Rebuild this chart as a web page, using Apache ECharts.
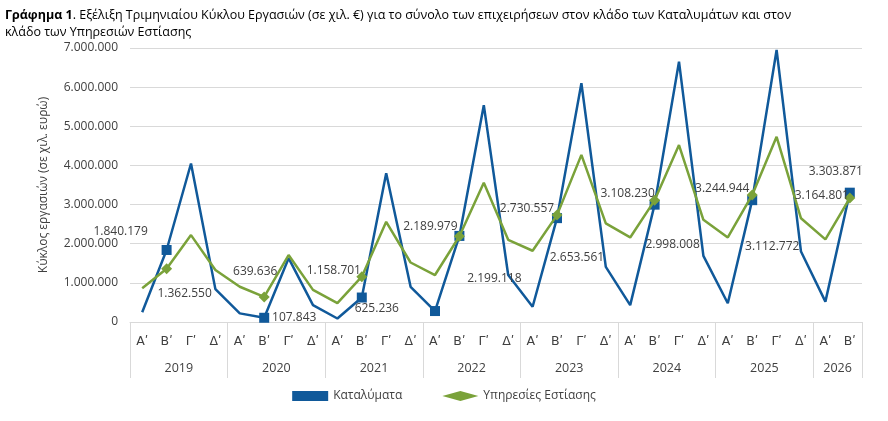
<!DOCTYPE html>
<html lang="el">
<head>
    <meta charset="UTF-8">
    <title>Γράφημα 1</title>
    <script src="https://cdn.jsdelivr.net/npm/echarts@6/dist/echarts.min.js"></script>
    <style>
        html, body { margin: 0; padding: 0; background: #fff; }
        #main { width: 888px; height: 421px; }
    </style>
</head>
<body>
    <div id="main"></div>
    <script>
    var myChart = echarts.init(document.getElementById('main'));

    var years = ['2019', '2020', '2021', '2022', '2023', '2024', '2025', '2026'];
    var quarters = ['Α\u02B9', 'Β\u02B9', 'Γ\u02B9', 'Δ\u02B9'];
    var cats = [];
    years.forEach(function (y) {
        quarters.forEach(function (q) {
            cats.push(q);
        });
    });
    cats = cats.slice(0, 30);

    // Καταλύματα (χιλ. €)
    var katalymata = [
        250000, 1840179, 4050000, 840000,
        220000, 107843, 1630000, 430000,
        90000, 625236, 3800000, 900000,
        280000, 2199118, 5540000, 1200000,
        390000, 2653561, 6100000, 1410000,
        430000, 2998008, 6650000, 1690000,
        480000, 3112772, 6950000, 1800000,
        520000, 3303871
    ];
    // Υπηρεσίες Εστίασης (χιλ. €)
    var estiasi = [
        860000, 1362550, 2220000, 1330000,
        900000, 639636, 1710000, 820000,
        480000, 1158701, 2560000, 1520000,
        1200000, 2189979, 3560000, 2100000,
        1820000, 2730557, 4270000, 2520000,
        2160000, 3108230, 4520000, 2610000,
        2160000, 3244944, 4730000, 2650000,
        2110000, 3164801
    ];

    // θέσεις ετικετών στα σημεία Β΄ τριμήνου
    var blueOff = [[-46, -18], [30, 0], [15, 11], [35, 43], [20, 39], [18, 40], [20, 46], [-14, -21]];
    var greenOff = [[18, 25], [-9, -25], [-28, -6], [-29, -10], [-30, -7], [-27, -7], [-30, -6], [-28, -3]];

    function fmt(v) {
        return String(v).replace(/\B(?=(\d{3})+(?!\d))/g, '.');
    }

    function build(values, sym, size, offs, extra) {
        return values.map(function (v, i) {
            if (i % 4 === 1) {
                return {
                    value: v, symbol: sym, symbolSize: size,
                    label: {
                        show: true, position: 'inside', offset: offs[(i - 1) / 4],
                        formatter: fmt(v), color: '#404040', fontSize: 12,
                        fontFamily: 'Open Sans'
                    }
                };
            }
            if (extra && extra.indexOf(i) >= 0) {
                return { value: v, symbol: sym, symbolSize: size };
            }
            return { value: v, symbol: 'none' };
        });
    }

    var option = {
        animation: false,
        textStyle: { fontFamily: 'Open Sans', color: '#404040' },
        title: {
            left: 0, top: 2,
            text: '{b|Γράφημα 1}. Εξέλιξη Τριμηνιαίου Κύκλου Εργασιών (σε χιλ. €) για το σύνολο των επιχειρήσεων στον κλάδο των Καταλυμάτων και στον\nκλάδο των Υπηρεσιών Εστίασης',
            textStyle: {
                fontSize: 12.5, fontWeight: 'normal', color: '#000', lineHeight: 17,
                fontFamily: 'Open Sans',
                rich: { b: { fontWeight: 'bold', fontSize: 12.5, color: '#000', fontFamily: 'Open Sans' } }
            }
        },
        legend: {
            bottom: 14, left: 'center', itemGap: 40, itemWidth: 36, itemHeight: 10,
            textStyle: { fontSize: 12, color: '#404040' },
            data: [
                { name: 'Καταλύματα', icon: 'rect' },
                { name: 'Υπηρεσίες Εστίασης', icon: 'diamond' }
            ]
        },
        grid: { left: 130, right: 26, top: 48, bottom: 99 },
        xAxis: [{
            type: 'category', data: cats, boundaryGap: true,
            axisLine: { lineStyle: { color: '#d9d9d9' } },
            axisTick: { show: false },
            axisLabel: { fontSize: 12.5, color: '#404040', margin: 13, interval: 0, fontFamily: 'DejaVu Sans' }
        }, {
            type: 'value', min: 0, max: 30, position: 'bottom',
            axisLine: { show: false },
            splitLine: { show: false },
            axisTick: {
                show: true, length: 56, lineStyle: { color: '#d9d9d9' },
                customValues: [0, 4, 8, 12, 16, 20, 24, 28, 30]
            },
            axisLabel: {
                fontSize: 12.5, color: '#404040', margin: 40,
                customValues: [2, 6, 10, 14, 18, 22, 26, 29],
                formatter: function (v) {
                    var idx = v === 29 ? 7 : (v - 2) / 4;
                    return years[idx];
                }
            }
        }],
        yAxis: {
            type: 'value', min: 0, max: 7000000, interval: 1000000,
            name: 'Κύκλος εργασιών (σε χιλ. ευρώ)', nameLocation: 'middle', nameGap: 80,
            nameTextStyle: { fontSize: 12, color: '#404040' },
            axisLine: { show: false }, axisTick: { show: false },
            axisLabel: { fontSize: 12, color: '#404040', margin: 12, formatter: fmt },
            splitLine: { lineStyle: { color: '#d9d9d9' } }
        },
        series: [{
            name: 'Καταλύματα', type: 'line', symbol: 'rect',
            lineStyle: { width: 2.5, color: '#10599a' },
            itemStyle: { color: '#10599a' },
            data: build(katalymata, 'rect', 10, blueOff, [12]),
            z: 2
        }, {
            name: 'Υπηρεσίες Εστίασης', type: 'line', symbol: 'diamond',
            lineStyle: { width: 2.5, color: '#7aa23a' },
            itemStyle: { color: '#7aa23a' },
            data: build(estiasi, 'diamond', 11, greenOff),
            z: 3
        }]
    };

    myChart.setOption(option);
    </script>
</body>
</html>
